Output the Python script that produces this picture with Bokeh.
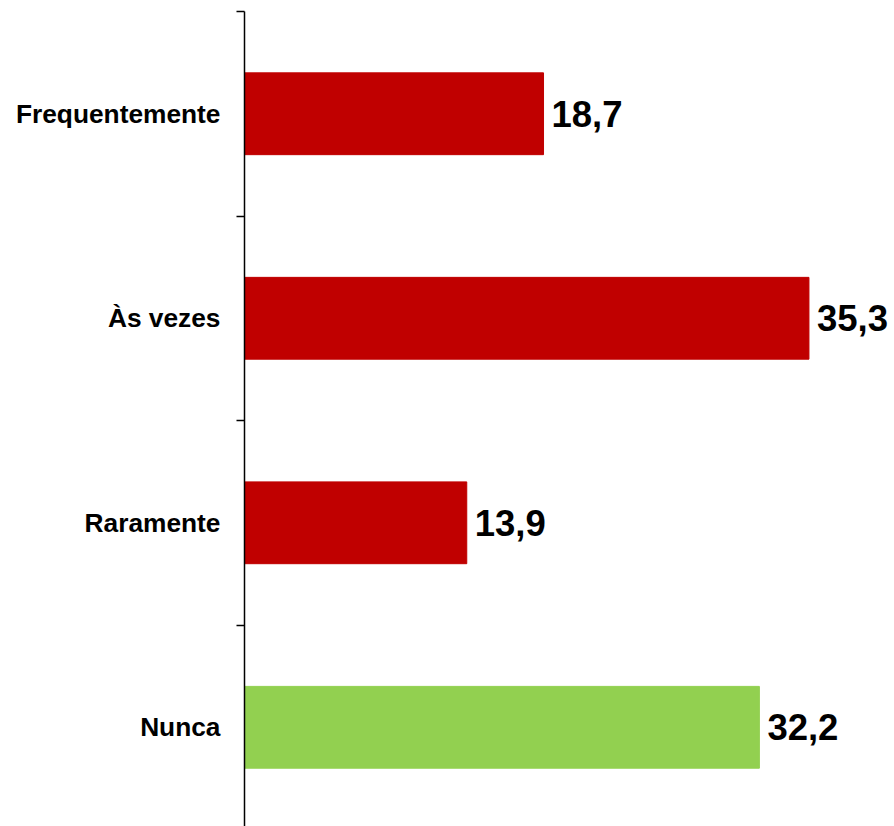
from bokeh.plotting import figure
from bokeh.models import ColumnDataSource, Range1d, FixedTicker, LabelSet
from bokeh.core.properties import value
from bokeh.embed import file_html
from bokeh.resources import INLINE

categories = ["Frequentemente", "Às vezes", "Raramente", "Nunca"]
values = [18.7, 35.3, 13.9, 32.2]
value_labels = ["18,7", "35,3", "13,9", "32,2"]
bar_colors = ["#C00000", "#C00000", "#C00000", "#92D050"]

n = len(categories)
ys = [n - i - 0.5 for i in range(n)]
src = ColumnDataSource(dict(y=ys, v=values, lab=value_labels, c=bar_colors))

p = figure(width=894, height=826, output_backend="svg", toolbar_location=None,
           x_range=Range1d(0, 40.65), y_range=Range1d(0.015, n),
           x_axis_location=None, min_border_left=244, min_border_right=0,
           min_border_top=11, min_border_bottom=0)
p.outline_line_color = None
p.xgrid.visible = False
p.ygrid.visible = False
p.background_fill_color = "white"

p.hbar(y="y", right="v", left=0, height=0.4, color="c", source=src)

ax = p.yaxis[0]
ax.ticker = FixedTicker(ticks=ys, minor_ticks=list(range(n + 1)))
ax.major_label_overrides = {y: c for y, c in zip(ys, categories)}
ax.major_tick_out = 0
ax.major_tick_in = 0
ax.minor_tick_out = 8
ax.minor_tick_in = 0
ax.minor_tick_line_color = "black"
ax.minor_tick_line_width = 1.5
ax.axis_line_color = "black"
ax.axis_line_width = 1.5
ax.major_label_standoff = 16
ax.major_label_text_font = "Liberation Sans"
ax.major_label_text_font_style = "bold"
ax.major_label_text_font_size = "26.3px"
ax.major_label_text_color = "black"

labels = LabelSet(x="v", y="y", text="lab", source=src, x_offset=8,
                  text_baseline="middle", text_align="left",
                  text_font=value("Liberation Sans"), text_font_style="bold",
                  text_font_size="36.5px", text_color="black")
p.add_layout(labels)

open("out.html", "w").write(file_html(p, INLINE))
